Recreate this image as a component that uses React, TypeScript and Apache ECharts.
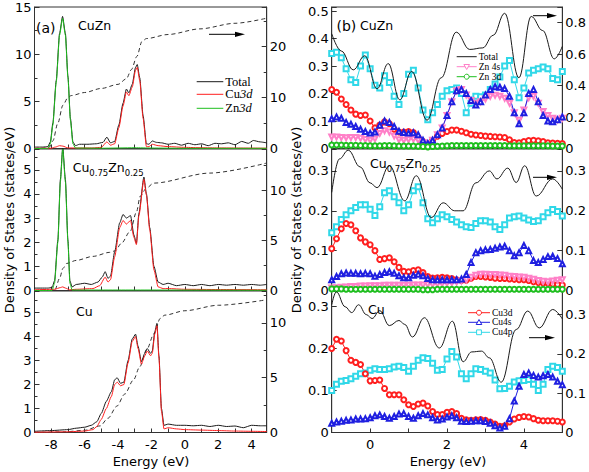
import { useEffect, useRef } from 'react';
import * as echarts from 'echarts';

// ---------- (a) left column data: [energy eV, DOS] ----------
const cuznTotalA: [number, number][] = [[-9,0.15],[-8.5,0.15],[-8.2,0.2],[-8.05,0.7],[-7.9,2.7],[-7.7,7.2],[-7.5,12.2],[-7.32,14.0],[-7.15,12.2],[-7.0,7.7],[-6.85,3.2],[-6.7,0.7],[-6.55,0.3],[-6.3,0.45],[-5.8,0.45],[-5.3,0.5],[-4.9,0.65],[-4.67,1.2],[-4.45,0.6],[-4.2,0.75],[-3.95,2.5],[-3.7,4.8],[-3.5,6.3],[-3.35,5.9],[-3.15,6.8],[-2.95,8.6],[-2.85,8.9],[-2.7,7.5],[-2.5,3.5],[-2.3,0.5],[-2.15,0.45],[-1.95,0.8],[-1.7,0.65],[-1.4,0.6],[-1.0,0.45],[-0.6,0.55],[-0.2,0.35],[0.2,0.55],[0.6,0.4],[1.0,0.5],[1.4,0.3],[1.8,0.55],[2.2,0.5],[2.6,0.6],[3.0,0.4],[3.4,0.75],[3.8,0.55],[4.1,0.85],[4.5,0.7],[4.9,0.6]];
const cuznCu3dA: [number, number][] = [[-9,0.02],[-8.0,0.03],[-7.75,0.15],[-7.5,0.3],[-7.3,0.25],[-7.0,0.06],[-6.5,0.05],[-5.5,0.06],[-5.0,0.12],[-4.67,0.7],[-4.45,0.35],[-4.2,0.5],[-3.95,2.2],[-3.7,4.5],[-3.5,6.0],[-3.35,5.6],[-3.15,6.5],[-2.95,8.3],[-2.85,8.6],[-2.7,7.2],[-2.5,3.2],[-2.3,0.2],[-2.15,0.2],[-1.95,0.45],[-1.6,0.3],[-1.0,0.2],[0,0.12],[1,0.08],[2,0.06],[3,0.05],[4,0.04],[4.9,0.03]];
const cuznZn3dA: [number, number][] = [[-9,0],[-8.2,0],[-8.05,0.5],[-7.9,2.5],[-7.7,7.0],[-7.5,12.0],[-7.32,13.8],[-7.15,12.0],[-7.0,7.5],[-6.85,3.0],[-6.7,0.5],[-6.55,0.05],[-5,0.03],[-3,0.08],[-2,0.05],[0,0.02],[4.9,0.02]];
const cuznIntA: [number, number][] = [[-9,0],[-8.5,0.05],[-8.1,0.3],[-7.9,1.5],[-7.6,5.0],[-7.3,8.5],[-7.0,10.0],[-6.8,10.4],[-6.0,11.0],[-5.0,11.8],[-4.0,12.6],[-3.5,13.7],[-3.2,15.5],[-2.87,18.1],[-2.57,21.0],[-2.3,21.6],[-1.0,22.4],[0.9,23.5],[3.0,24.6],[4.9,25.6]];

const alloyTotalA: [number, number][] = [[-9,0.1],[-8.2,0.1],[-7.95,0.12],[-7.8,0.4],[-7.6,2.1],[-7.45,4.6],[-7.31,5.95],[-7.15,4.6],[-7.0,2.1],[-6.88,0.4],[-6.75,0.15],[-6.5,0.25],[-6.0,0.3],[-5.6,0.25],[-5.2,0.35],[-4.95,0.55],[-4.77,0.78],[-4.6,0.5],[-4.45,0.6],[-4.2,1.6],[-3.9,2.8],[-3.7,3.15],[-3.5,3.0],[-3.25,3.1],[-3.05,2.3],[-2.9,1.95],[-2.75,3.2],[-2.45,4.7],[-2.3,4.0],[-2.1,2.6],[-1.85,1.0],[-1.6,0.35],[-1.3,0.25],[-1,0.3],[-0.5,0.2],[0,0.25],[0.5,0.2],[1,0.25],[1.5,0.2],[2,0.25],[2.5,0.22],[3,0.25],[3.5,0.22],[4,0.25],[4.5,0.22],[4.9,0.25]];
const alloyCu3dA: [number, number][] = [[-9,0.03],[-7.8,0.05],[-7.45,0.12],[-7.31,0.15],[-7.15,0.1],[-6.9,0.03],[-6.5,0.05],[-5.5,0.08],[-5.1,0.2],[-4.77,0.55],[-4.6,0.35],[-4.45,0.45],[-4.2,1.4],[-3.9,2.6],[-3.7,2.9],[-3.5,2.75],[-3.25,2.9],[-3.05,2.2],[-2.9,1.9],[-2.75,3.1],[-2.45,4.6],[-2.3,3.95],[-2.1,2.5],[-1.85,0.85],[-1.6,0.15],[-1.3,0.08],[-1,0.08],[0,0.05],[2,0.04],[4.9,0.03]];
const alloyZn3dA: [number, number][] = [[-9,0],[-7.95,0],[-7.8,0.3],[-7.6,2.0],[-7.45,4.5],[-7.31,5.85],[-7.15,4.5],[-7.0,2.0],[-6.88,0.3],[-6.75,0.02],[-3,0.02],[4.9,0.01]];
const alloyIntA: [number, number][] = [[-9,0],[-7.9,0],[-7.77,0.1],[-7.5,1.2],[-7.3,2.2],[-7.07,2.7],[-6.5,3.0],[-5.5,3.4],[-4.5,3.8],[-4.17,3.95],[-3.8,4.7],[-3.27,5.9],[-2.9,7.8],[-2.67,9.4],[-2.3,10.2],[-1.87,10.7],[1.5,11.7],[4.9,12.7]];

const cuTotalA: [number, number][] = [[-9,0.05],[-8,0.08],[-7,0.12],[-6.5,0.18],[-6.0,0.22],[-5.6,0.3],[-5.27,0.45],[-5.0,0.8],[-4.7,1.3],[-4.4,1.7],[-4.2,2.2],[-4.05,2.28],[-3.85,2.05],[-3.65,2.1],[-3.4,3.0],[-3.15,3.9],[-2.95,4.1],[-2.8,3.6],[-2.6,2.95],[-2.4,3.3],[-2.25,3.5],[-2.05,3.3],[-1.95,3.4],[-1.8,4.2],[-1.67,4.55],[-1.55,3.2],[-1.4,1.0],[-1.25,0.3],[-1.0,0.35],[-0.5,0.3],[0,0.3],[0.5,0.28],[1,0.3],[1.5,0.25],[2,0.3],[2.5,0.25],[3,0.27],[3.5,0.2],[4,0.3],[4.5,0.28],[4.9,0.28]];
const cuCu3dA: [number, number][] = [[-9,0.01],[-7,0.03],[-6,0.06],[-5.5,0.12],[-5.27,0.25],[-5.0,0.55],[-4.7,1.0],[-4.4,1.5],[-4.2,2.0],[-4.05,2.1],[-3.85,1.95],[-3.65,2.0],[-3.4,2.9],[-3.15,3.8],[-2.95,4.0],[-2.8,3.5],[-2.6,2.85],[-2.4,3.2],[-2.25,3.4],[-2.05,3.2],[-1.95,3.3],[-1.8,4.1],[-1.67,4.45],[-1.55,3.1],[-1.4,0.9],[-1.25,0.15],[-1.0,0.2],[-0.5,0.15],[0,0.12],[1,0.1],[2,0.08],[3,0.06],[4,0.05],[4.9,0.04]];
const cuIntA: [number, number][] = [[-9,0],[-7.3,0.05],[-6,0.2],[-5.07,0.6],[-4.6,1.3],[-4.07,2.4],[-3.6,3.5],[-3.07,4.8],[-2.7,6.0],[-2.27,7.6],[-1.85,9.0],[-1.47,10.4],[-1.2,10.7],[0,11.1],[2,11.6],[4.9,12.1]];

// ---------- (b) right column data: energies of the projected points ----------
const eGrid = [-1,-0.875,-0.75,-0.625,-0.5,-0.375,-0.25,-0.125,0,0.125,0.25,0.375,0.5,0.625,0.75,0.875,1,1.125,1.25,1.375,1.5,1.625,1.75,1.875,2,2.125,2.25,2.375,2.5,2.625,2.75,2.875,3,3.125,3.25,3.375,3.5,3.625,3.75,3.875,4,4.125,4.25,4.375,4.5,4.625,4.75,4.875,5];

const cuznCu4p = [0.346,0.35,0.33,0.29,0.25,0.24,0.30,0.34,0.29,0.23,0.22,0.265,0.24,0.19,0.16,0.20,0.27,0.285,0.22,0.14,0.105,0.13,0.16,0.19,0.21,0.215,0.22,0.20,0.13,0.165,0.19,0.188,0.195,0.215,0.235,0.26,0.30,0.32,0.25,0.185,0.22,0.275,0.285,0.29,0.297,0.29,0.255,0.25,0.28];
const cuznCu3d = [0.215,0.205,0.18,0.16,0.14,0.125,0.12,0.122,0.10,0.075,0.085,0.097,0.09,0.07,0.06,0.06,0.062,0.058,0.04,0.025,0.018,0.03,0.045,0.055,0.062,0.067,0.067,0.063,0.057,0.052,0.049,0.047,0.045,0.044,0.043,0.042,0.04,0.032,0.022,0.021,0.025,0.029,0.03,0.028,0.025,0.021,0.02,0.019,0.018];
const cuznCu4s = [0.108,0.115,0.11,0.095,0.088,0.08,0.07,0.062,0.056,0.06,0.085,0.10,0.095,0.08,0.063,0.058,0.056,0.057,0.05,0.03,0.018,0.03,0.05,0.075,0.12,0.17,0.21,0.215,0.20,0.175,0.158,0.17,0.195,0.215,0.225,0.223,0.218,0.19,0.13,0.09,0.13,0.2,0.215,0.17,0.12,0.10,0.097,0.105,0.115];
const cuznZn4s = [0.042,0.042,0.04,0.039,0.04,0.04,0.037,0.033,0.03,0.035,0.055,0.065,0.06,0.045,0.032,0.03,0.032,0.034,0.03,0.022,0.018,0.03,0.05,0.075,0.12,0.17,0.21,0.215,0.195,0.175,0.165,0.17,0.18,0.19,0.194,0.19,0.183,0.165,0.13,0.103,0.14,0.185,0.19,0.165,0.135,0.12,0.11,0.105,0.11];
const cuznZn3d = [0.013,0.013,0.013,0.012,0.012,0.012,0.011,0.011,0.010,0.010,0.010,0.011,0.011,0.010,0.009,0.009,0.009,0.009,0.008,0.007,0.006,0.007,0.008,0.009,0.010,0.011,0.011,0.011,0.011,0.011,0.011,0.011,0.011,0.011,0.011,0.011,0.011,0.010,0.010,0.010,0.010,0.010,0.010,0.010,0.010,0.010,0.009,0.009,0.009];
const cuznTotalB: [number, number][] = [[-1,0.73],[-0.75,0.62],[-0.44,0.5],[-0.14,0.59],[0.18,0.38],[0.47,0.54],[0.77,0.31],[1.08,0.49],[1.48,0.18],[1.85,0.45],[2.24,0.74],[2.59,0.63],[2.93,0.64],[3.2,0.72],[3.5,0.86],[3.87,0.45],[4.19,0.84],[4.49,0.75],[4.79,0.57],[5,0.65]];

const alloyCu4p = [0.145,0.16,0.178,0.19,0.2,0.208,0.215,0.215,0.204,0.188,0.21,0.245,0.25,0.235,0.22,0.2,0.215,0.25,0.26,0.22,0.18,0.17,0.18,0.19,0.185,0.178,0.172,0.165,0.16,0.158,0.168,0.175,0.175,0.172,0.16,0.153,0.165,0.182,0.185,0.187,0.182,0.177,0.173,0.175,0.185,0.195,0.203,0.198,0.187];
const alloyCu3d = [0.105,0.13,0.155,0.168,0.165,0.15,0.132,0.122,0.115,0.1,0.078,0.08,0.082,0.072,0.058,0.048,0.047,0.05,0.052,0.045,0.035,0.031,0.032,0.033,0.032,0.03,0.027,0.025,0.026,0.031,0.035,0.035,0.034,0.033,0.031,0.03,0.03,0.029,0.028,0.027,0.027,0.025,0.022,0.02,0.019,0.018,0.016,0.015,0.014];
const alloyCu4s = [0.027,0.035,0.042,0.044,0.043,0.043,0.042,0.043,0.042,0.036,0.04,0.045,0.047,0.043,0.037,0.032,0.032,0.038,0.041,0.037,0.03,0.027,0.027,0.027,0.027,0.027,0.027,0.029,0.04,0.07,0.095,0.1,0.102,0.103,0.106,0.109,0.111,0.1,0.087,0.095,0.113,0.1,0.075,0.07,0.078,0.085,0.086,0.08,0.067];
const alloyZn4s = [0.006,0.007,0.008,0.009,0.01,0.01,0.011,0.011,0.012,0.012,0.012,0.013,0.013,0.013,0.013,0.013,0.013,0.014,0.014,0.014,0.015,0.015,0.016,0.017,0.018,0.019,0.021,0.024,0.027,0.033,0.038,0.041,0.041,0.04,0.04,0.039,0.038,0.036,0.035,0.034,0.033,0.031,0.028,0.025,0.023,0.022,0.024,0.026,0.027];
const alloyZn3d = [0.004,0.004,0.004,0.003,0.003,0.003,0.003,0.003,0.003,0.003,0.003,0.003,0.003,0.003,0.003,0.003,0.003,0.003,0.003,0.002,0.002,0.002,0.003,0.003,0.003,0.003,0.003,0.003,0.003,0.003,0.003,0.003,0.003,0.003,0.003,0.003,0.003,0.003,0.003,0.003,0.003,0.003,0.003,0.003,0.003,0.003,0.003,0.003,0.003];
const alloyTotalB: [number, number][] = [[-1,0.246],[-0.8,0.33],[-0.57,0.352],[-0.26,0.31],[0.0,0.27],[0.18,0.258],[0.5,0.313],[0.9,0.225],[1.2,0.288],[1.59,0.183],[1.9,0.22],[2.2,0.2],[2.42,0.2],[2.75,0.27],[3.1,0.30],[3.3,0.28],[3.58,0.307],[3.8,0.271],[4.02,0.313],[4.32,0.237],[4.75,0.28],[5,0.254]];

const cuCu4p = [0.1,0.115,0.122,0.124,0.128,0.134,0.14,0.142,0.148,0.152,0.15,0.15,0.152,0.156,0.158,0.155,0.146,0.158,0.172,0.178,0.176,0.165,0.148,0.15,0.175,0.193,0.18,0.14,0.128,0.14,0.152,0.15,0.146,0.142,0.125,0.104,0.105,0.11,0.12,0.123,0.124,0.126,0.115,0.1,0.115,0.15,0.158,0.155,0.146];
const cuCu3d = [0.2,0.222,0.218,0.195,0.172,0.167,0.162,0.14,0.123,0.124,0.125,0.105,0.09,0.09,0.09,0.078,0.066,0.062,0.068,0.07,0.063,0.05,0.043,0.043,0.048,0.05,0.045,0.034,0.03,0.029,0.03,0.031,0.029,0.025,0.02,0.015,0.016,0.025,0.032,0.036,0.038,0.037,0.033,0.029,0.028,0.028,0.028,0.027,0.025];
const cuCu4s = [0.022,0.025,0.027,0.029,0.03,0.032,0.032,0.033,0.035,0.04,0.042,0.038,0.034,0.038,0.044,0.045,0.038,0.034,0.04,0.045,0.042,0.035,0.03,0.032,0.037,0.04,0.035,0.027,0.026,0.027,0.028,0.028,0.026,0.022,0.016,0.011,0.015,0.033,0.075,0.11,0.138,0.142,0.136,0.132,0.135,0.138,0.132,0.122,0.114];
const cuTotalB: [number, number][] = [[-1,0.325],[-0.88,0.358],[-0.65,0.32],[-0.48,0.305],[-0.3,0.325],[-0.1,0.3],[0.05,0.29],[0.25,0.31],[0.5,0.272],[0.75,0.285],[0.9,0.275],[1.1,0.243],[1.41,0.292],[1.8,0.215],[2.14,0.283],[2.42,0.18],[2.64,0.205],[2.9,0.207],[3.1,0.19],[3.41,0.128],[3.8,0.262],[4.1,0.309],[4.4,0.266],[4.75,0.313],[5,0.289]];

// ---------- styling ----------
const SANS = 'DejaVu Sans';
const SERIF = 'Liberation Serif';
const AXC = '#333';
const C_BLACK = '#1a1a1a';
const C_RED = '#ff1f1f';
const C_GREEN = '#1fbf1f';
const C_BLUE = '#1f1fe0';
const C_CYAN = '#30d8e8';
const C_PINK = '#ff80c8';

const LEFT_X = 34.5, LEFT_W = 232.2, RIGHT_X = 331.7, RIGHT_W = 231.3;
const TOPS = [7, 149, 291];
const PH = 141.5;

function mulFmt(step: number) {
  return (v: number) => {
    const k = v / step;
    if (Math.abs(k - Math.round(k)) > 1e-6) return '';
    return String(Number(v.toFixed(3)));
  };
}
const evenFmt = (v: number) => (Math.abs(v - Math.round(v)) < 1e-6 && Math.round(v) % 2 === 0 ? String(Math.round(v)) : '');

type Panel = { col: number; row: number; xMin: number; xMax: number; yl: [number, number]; yr: [number, number] };
const panels: Panel[] = [
  { col: 0, row: 0, xMin: -9, xMax: 4.9, yl: [15, 5], yr: [27.8, 10] },
  { col: 0, row: 1, xMin: -9, xMax: 4.9, yl: [5.86, 1], yr: [14.1, 5] },
  { col: 0, row: 2, xMin: -9, xMax: 4.9, yl: [5.9, 1], yr: [12.9, 5] },
  { col: 1, row: 0, xMin: -1, xMax: 5, yl: [0.515, 0.1], yr: [0.9, 0.2] },
  { col: 1, row: 1, xMin: -1, xMax: 5, yl: [0.355, 0.1], yr: [0.355, 0.1] },
  { col: 1, row: 2, xMin: -1, xMax: 5, yl: [0.337, 0.1], yr: [0.36, 0.1] },
];

function lineS(p: number, right: boolean, data: [number, number][], color: string, extra: any = {}) {
  return {
    type: 'line', xAxisIndex: p, yAxisIndex: 2 * p + (right ? 1 : 0), data,
    showSymbol: false, symbol: 'none', smooth: 0.3, smoothMonotone: 'x',
    lineStyle: { color, width: 1 }, itemStyle: { color }, z: 3, ...extra,
  };
}
function markS(p: number, vals: number[], color: string, symbol: string, rotate = 0, z = 2) {
  return {
    type: 'line', xAxisIndex: p, yAxisIndex: 2 * p,
    data: eGrid.map((e, i) => [e, vals[i]]),
    symbol, symbolSize: 5, symbolRotate: rotate, showSymbol: true,
    lineStyle: { color, width: 1 }, itemStyle: { color, borderColor: color, borderWidth: 1 }, z,
  };
}

function arrow(x1: number, x2: number, y: number) {
  return [
    { type: 'line', z: 50, shape: { x1, y1: y, x2: x2 - 6, y2: y }, style: { stroke: '#000', lineWidth: 1 } },
    { type: 'polygon', z: 50, shape: { points: [[x2, y], [x2 - 10, y - 2.6], [x2 - 10, y + 2.6]] }, style: { fill: '#000' } },
  ];
}
function txt(x: number, y: number, text: string, fontSize: number, extra: any = {}) {
  return { type: 'text', x, y, z: 50, style: { text, fontSize, fontFamily: SANS, fill: '#000', align: 'left', verticalAlign: 'middle', ...extra } };
}
const alloyRich = {
  n: { fontSize: 12.5, fontFamily: SANS, lineHeight: 20, fill: '#000' },
  s: { fontSize: 8.5, fontFamily: SANS, lineHeight: 12, verticalAlign: 'bottom', fill: '#000' },
};
function legendRow(x1: number, x2: number, y: number, color: string, label: string, fontSize: number, marker?: string) {
  const els: any[] = [{ type: 'line', z: 60, shape: { x1, y1: y, x2, y2: y }, style: { stroke: color, lineWidth: 1 } }];
  const cx = (x1 + x2) / 2;
  const ms = { fill: '#fff', stroke: color, lineWidth: 1 };
  if (marker === 'circle') els.push({ type: 'circle', z: 61, shape: { cx, cy: y, r: 2.5 }, style: ms });
  if (marker === 'tri') els.push({ type: 'polygon', z: 61, shape: { points: [[cx, y - 2.8], [cx - 2.8, y + 2.2], [cx + 2.8, y + 2.2]] }, style: ms });
  if (marker === 'triDown') els.push({ type: 'polygon', z: 61, shape: { points: [[cx, y + 2.8], [cx - 2.8, y - 2.2], [cx + 2.8, y - 2.2]] }, style: ms });
  if (marker === 'square') els.push({ type: 'rect', z: 61, shape: { x: cx - 2.4, y: y - 2.4, width: 4.8, height: 4.8 }, style: ms });
  const lh = fontSize * 0.95;
  els.push({
    type: 'text', x: x2 + 2, y, z: 62,
    style: {
      text: label, fontSize, fontFamily: SERIF, fill: '#000', align: 'left', verticalAlign: 'middle', lineHeight: lh,
      rich: {
        r: { fontSize, fontFamily: SERIF, fill: '#000', lineHeight: lh },
        i: { fontSize, fontFamily: SERIF, fontStyle: 'italic', fill: '#000', lineHeight: lh },
      },
    },
  });
  return els;
}

export default function App() {
  const ref = useRef<HTMLDivElement>(null);
  useEffect(() => {
    if (!ref.current) return;
    const chart = echarts.init(ref.current, null, { renderer: 'svg' });

    const grid = panels.map((p) => ({
      left: p.col === 0 ? LEFT_X : RIGHT_X,
      width: p.col === 0 ? LEFT_W : RIGHT_W,
      top: TOPS[p.row], height: PH,
      show: true, borderColor: AXC, borderWidth: 1, backgroundColor: 'transparent',
    }));

    const xAxis = panels.map((p, i) => ({
      type: 'value', gridIndex: i, min: p.xMin, max: p.xMax, interval: 1,
      axisLine: { show: true, onZero: false, lineStyle: { color: AXC, width: 1 } },
      axisTick: { show: true, inside: true, length: 4, lineStyle: { color: AXC } },
      axisLabel: { show: p.row === 2, formatter: evenFmt, fontSize: 13, fontFamily: SANS, color: '#000', margin: 5 },
      splitLine: { show: false },
    }));

    const yAxis: any[] = [];
    panels.forEach((p, i) => {
      [false, true].forEach((right) => {
        const [max, interval] = right ? p.yr : p.yl;
        yAxis.push({
          type: 'value', gridIndex: i, position: right ? 'right' : 'left', min: 0, max, interval,
          axisLine: { show: true, onZero: false, lineStyle: { color: AXC, width: 1 } },
          axisTick: { show: true, inside: true, length: 5, lineStyle: { color: AXC } },
          minorTick: { show: p.col === 0, splitNumber: 2, length: 3, lineStyle: { color: AXC } },
          axisLabel: { formatter: mulFmt(interval), fontSize: 13, fontFamily: SANS, color: '#000', margin: 3 },
          splitLine: { show: false },
        });
      });
    });

    const dashed = { lineStyle: { color: '#333', width: 1, type: [4, 3] } };
    const series: any[] = [
      // (a) CuZn
      lineS(0, true, cuznIntA, '#333', dashed),
      lineS(0, false, cuznTotalA, C_BLACK, { smooth: 0.2 }),
      lineS(0, false, cuznCu3dA, C_RED, { smooth: 0.2, z: 4 }),
      lineS(0, false, cuznZn3dA, C_GREEN, { smooth: 0.2, z: 5 }),
      // (a) Cu0.75Zn0.25
      lineS(1, true, alloyIntA, '#333', dashed),
      lineS(1, false, alloyTotalA, C_BLACK, { smooth: 0.2 }),
      lineS(1, false, alloyCu3dA, C_RED, { smooth: 0.2, z: 4 }),
      lineS(1, false, alloyZn3dA, C_GREEN, { smooth: 0.2, z: 5 }),
      // (a) Cu
      lineS(2, true, cuIntA, '#333', dashed),
      lineS(2, false, cuTotalA, C_BLACK, { smooth: 0.2 }),
      lineS(2, false, cuCu3dA, C_RED, { smooth: 0.2, z: 4 }),
      // (b) CuZn
      markS(3, cuznCu4p, C_CYAN, 'emptyRect'),
      markS(3, cuznCu3d, C_RED, 'emptyCircle'),
      markS(3, cuznZn4s, C_PINK, 'emptyTriangle', 180),
      markS(3, cuznCu4s, C_BLUE, 'emptyTriangle'),
      markS(3, cuznZn3d, C_GREEN, 'emptyCircle'),
      lineS(3, true, cuznTotalB, C_BLACK, { smooth: 0.4 }),
      // (b) Cu0.75Zn0.25
      markS(4, alloyCu4p, C_CYAN, 'emptyRect'),
      markS(4, alloyCu3d, C_RED, 'emptyCircle'),
      markS(4, alloyZn4s, C_PINK, 'emptyTriangle', 180),
      markS(4, alloyCu4s, C_BLUE, 'emptyTriangle'),
      markS(4, alloyZn3d, C_GREEN, 'emptyCircle'),
      lineS(4, true, alloyTotalB, C_BLACK, { smooth: 0.4 }),
      // (b) Cu
      markS(5, cuCu4p, C_CYAN, 'emptyRect'),
      markS(5, cuCu3d, C_RED, 'emptyCircle'),
      markS(5, cuCu4s, C_BLUE, 'emptyTriangle'),
      lineS(5, true, cuTotalB, C_BLACK, { smooth: 0.4 }),
    ];

    const graphic: any[] = [
      txt(36, 27.5, '(a)', 14),
      txt(78, 25.5, 'CuZn', 12.5),
      { type: 'text', x: 72.7, y: 167, z: 50, style: { text: '{n|Cu}{s|0.75}{n|Zn}{s|0.25}', rich: alloyRich, align: 'left', verticalAlign: 'middle' } },
      txt(76, 311.7, 'Cu', 12.5),
      txt(336.5, 26, '(b)', 14),
      txt(360, 25, 'CuZn', 12.5),
      { type: 'text', x: 370, y: 163.3, z: 50, style: { text: '{n|Cu}{s|0.75}{n|Zn}{s|0.25}', rich: alloyRich, align: 'left', verticalAlign: 'middle' } },
      txt(368, 309, 'Cu', 12.5),
      { ...txt(9, 220, 'Density of States (states/eV)', 13, { align: 'center' }), rotation: Math.PI / 2 },
      { ...txt(296, 220, 'Density of States (states/eV)', 13, { align: 'center' }), rotation: Math.PI / 2 },
      txt(151, 461.5, 'Energy (eV)', 13, { align: 'center' }),
      txt(448, 461.5, 'Energy (eV)', 13, { align: 'center' }),
      ...arrow(209, 245, 34.3),
      ...arrow(533, 557, 15.7),
      ...arrow(533, 557, 177.3),
      ...arrow(529, 555, 337.7),
      ...legendRow(196.7, 223.3, 81.7, C_BLACK, '{r|Total}', 12.5),
      ...legendRow(196.7, 223.3, 94.3, C_RED, '{r|Cu}{i|3d}', 12.5),
      ...legendRow(196.7, 223.3, 108.3, C_GREEN, '{r|Zn}{i|3d}', 12.5),
      ...legendRow(456.7, 476.7, 56.7, C_BLACK, '{r|Total}', 9.5),
      ...legendRow(456.7, 476.7, 66.7, C_PINK, '{r|Zn 4s}', 9.5, 'triDown'),
      ...legendRow(456.7, 476.7, 76.7, C_GREEN, '{r|Zn 3d}', 9.5, 'circle'),
      ...legendRow(468, 490, 312.7, C_RED, '{r|Cu3d}', 9.5, 'circle'),
      ...legendRow(468, 490, 322.3, C_BLUE, '{r|Cu4s}', 9.5, 'tri'),
      ...legendRow(468, 490, 332.3, C_CYAN, '{r|Cu4p}', 9.5, 'square'),
    ];

    chart.setOption({
      animation: false,
      backgroundColor: '#fff',
      textStyle: { fontFamily: SANS },
      grid, xAxis, yAxis, series,
      graphic: { elements: graphic, z: 50 },
    });
    return () => chart.dispose();
  }, []);
  return <div ref={ref} style={{ position: 'fixed', left: 0, top: 0, width: 589, height: 472, background: '#fff' }} />;
}
